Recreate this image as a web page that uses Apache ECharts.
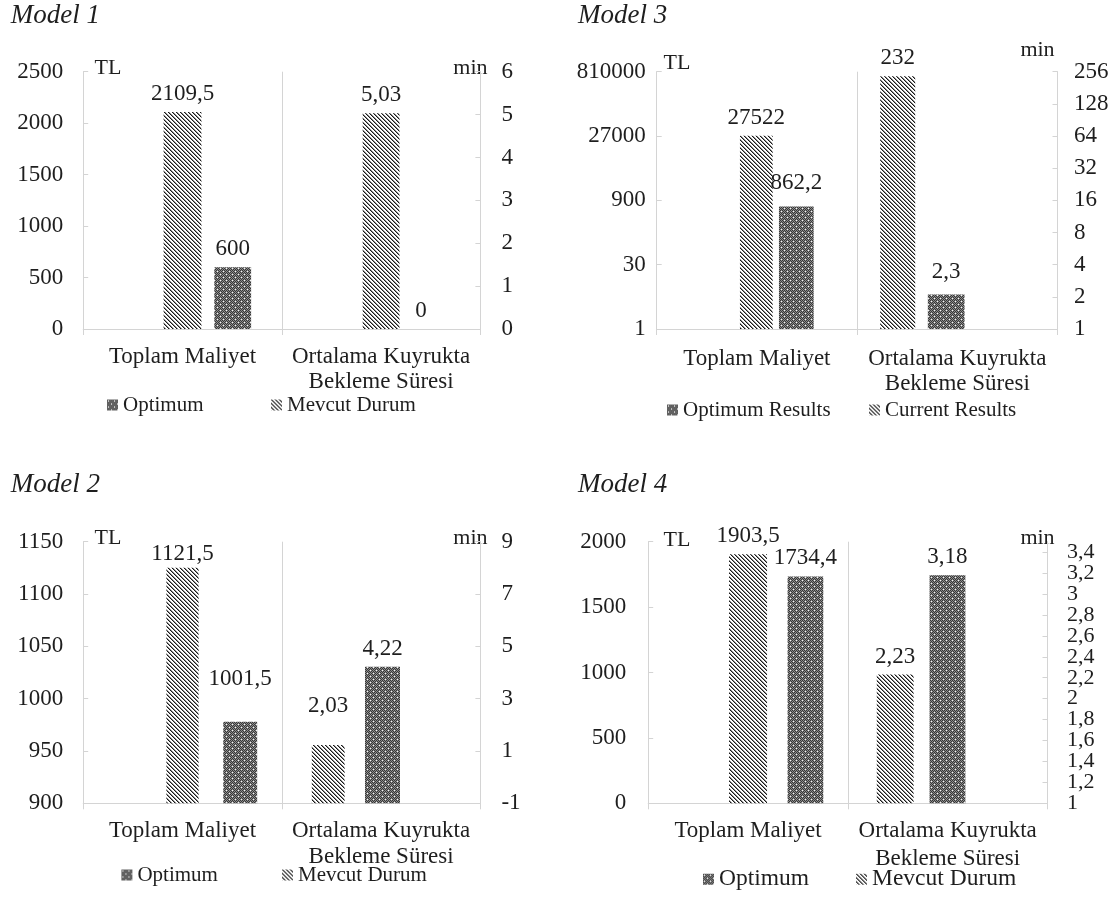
<!DOCTYPE html>
<html>
<head>
<meta charset="utf-8">
<script src="https://cdn.jsdelivr.net/npm/echarts@6/dist/echarts.min.js"></script>
<style>
  html, body { margin: 0; padding: 0; background: #fff; }
  #c { width: 1118px; height: 897px; }
</style>
</head>
<body>
<div id="c"></div>
<script>
// ---------------- DATA ----------------
const categories = ['Toplam Maliyet', 'Ortalama Kuyrukta\nBekleme Süresi'];
const legendNamesTR = ['Optimum', 'Mevcut Durum'];
const legendNamesEN = ['Optimum Results', 'Current Results'];
const panelTitles = ['Model 1', 'Model 2', 'Model 3', 'Model 4'];
const costUnit = 'TL';
const waitUnit = 'min';

// each pair: [Mevcut Durum / Current (hatched), Optimum (dotted)]
// Model 1
const model1CostBars = [2109.5, 600];
const model1WaitBars = [5.03, 0];
const model1CostLabels = [2109.5, 600];
const model1WaitLabels = [5.03, 0];
const model1CostAxis = [0, 2500, 500];
const model1WaitAxis = [0, 6, 1];

// Model 2 (bar heights as drawn; labels as printed)
const model2CostBars = [1125, 978];
const model2WaitBars = [1.23, 4.22];
const model2CostLabels = [1121.5, 1001.5];
const model2WaitLabels = [2.03, 4.22];
const model2CostAxis = [900, 1150, 50];
const model2WaitAxis = [-1, 9, 2];

// Model 3 (logarithmic axes: [min, max, base])
const model3CostBars = [27522, 650];
const model3WaitBars = [232, 2.1];
const model3CostLabels = [27522, 862.2];
const model3WaitLabels = [232, 2.3];
const model3CostAxis = [1, 810000, 30];
const model3WaitAxis = [1, 256, 2];

// Model 4
const model4CostBars = [1903.5, 1734.4];
const model4WaitBars = [2.23, 3.18];
const model4CostLabels = [1903.5, 1734.4];
const model4WaitLabels = [2.23, 3.18];
const model4CostAxis = [0, 2000, 500];
const model4WaitAxis = [1, 3.5, 0.2];

// ---------------- STYLE / LAYOUT ----------------
const FONT = '"Liberation Serif", "Times New Roman", serif';
const TXT = '#1e1e1e';
const AX = '#d4d4d4';
const FS = 23;

function makeHatch() {
  const n = 8, c = document.createElement('canvas');
  c.width = n; c.height = n;
  const ctx = c.getContext('2d');
  const img = ctx.createImageData(n, n);
  for (let y = 0; y < n; y++) for (let x = 0; x < n; x++) {
    const k = (((x - y) % 4) + 4) % 4;
    let v = 255;
    if (k === 0) v = 25; else if (k === 1) v = 140;
    const i = (y * n + x) * 4;
    img.data[i] = img.data[i + 1] = img.data[i + 2] = v; img.data[i + 3] = 255;
  }
  ctx.putImageData(img, 0, 0);
  return { image: c, repeat: 'repeat' };
}
function makeDots() {
  const n = 6, c = document.createElement('canvas');
  c.width = n; c.height = n;
  const ctx = c.getContext('2d');
  const img = ctx.createImageData(n, n);
  for (let y = 0; y < n; y++) for (let x = 0; x < n; x++) {
    let v = ((x + y) % 2 === 0) ? 55 : 140;
    if ((x === 1 && y === 1) || (x === 4 && y === 4)) v = 245;
    const i = (y * n + x) * 4;
    img.data[i] = img.data[i + 1] = img.data[i + 2] = v; img.data[i + 3] = 255;
  }
  ctx.putImageData(img, 0, 0);
  return { image: c, repeat: 'repeat' };
}
const HATCH = makeHatch();
const DOTS = makeDots();

const fmtNum = v => String(+(+v).toFixed(2)).replace('.', ',');
const fmtInt = v => String(Math.round(v));

const panels = [
  { title: panelTitles[0], titleXY: [10.7, 16.7], grid: [83.2, 71.7, 397.2, 257.3],
    cost: { bars: model1CostBars, labels: model1CostLabels, axis: model1CostAxis, log: false },
    wait: { bars: model1WaitBars, labels: model1WaitLabels, axis: model1WaitAxis, log: false },
    lm: 20, rm: 21, catMargin: 15, catLH: 25,
    tl: { wH: 37.8, wD: 36.8, h: 0, d: 50.2 }, wt: { wH: 36.8, wD: 36.8, h: 0, d: 40 },
    unitTL: [94.6, 68], unitMin: [487.5, 68],
    legend: legendNamesTR, legendPos: [[107, 405], [271, 405]], legendFont: 21 },
  { title: panelTitles[1], titleXY: [10.7, 485], grid: [83.2, 541.7, 397.2, 261.6],
    cost: { bars: model2CostBars, labels: model2CostLabels, axis: model2CostAxis, log: false },
    wait: { bars: model2WaitBars, labels: model2WaitLabels, axis: model2WaitAxis, log: false },
    lm: 20, rm: 21, catMargin: 14, catLH: 26.7,
    tl: { wH: 32.2, wD: 33.9, h: 0, d: 57.7 }, wt: { wH: 32.8, wD: 35, h: -52.9, d: 1.4 },
    unitTL: [94.6, 538], unitMin: [487.5, 538],
    legend: legendNamesTR, legendPos: [[121.4, 875], [282, 875]], legendFont: 21 },
  { title: panelTitles[2], titleXY: [578, 16.7], grid: [656.7, 71.7, 400.8, 257.3],
    cost: { bars: model3CostBars, labels: model3CostLabels, axis: model3CostAxis, log: true },
    wait: { bars: model3WaitBars, labels: model3WaitLabels, axis: model3WaitAxis, log: true },
    lm: 11, rm: 16.5, catMargin: 17, catLH: 25,
    tl: { wH: 32.7, wD: 34.7, h: -0.6, d: 39.4 }, wt: { wH: 35, wD: 36.7, h: -59.6, d: -11.1 },
    unitTL: [663.6, 63.3], unitMin: [1054.6, 50],
    legend: legendNamesEN, legendPos: [[667, 410], [869, 410]], legendFont: 21 },
  { title: panelTitles[3], titleXY: [578, 485], grid: [648.2, 541.7, 399.3, 261.6],
    cost: { bars: model4CostBars, labels: model4CostLabels, axis: model4CostAxis, log: false },
    wait: { bars: model4WaitBars, labels: model4WaitLabels, axis: model4WaitAxis, log: false, dense: true },
    lm: 22, rm: 19.5, catMargin: 14, catLH: 28,
    tl: { wH: 38, wD: 35.7, h: 0, d: 57.4 }, wt: { wH: 36.8, wD: 35.8, h: -52.5, d: -0.2 },
    unitTL: [663.6, 540], unitMin: [1054.6, 538],
    legend: legendNamesTR, legendPos: [[703, 879], [856, 879]], legendFont: 23.5 }
];

function yAxisFor(gridIndex, position, g, margin) {
  const ax = {
    gridIndex, position,
    axisLine: { show: true, onZero: false, lineStyle: { color: AX, width: 1 } },
    axisTick: { show: true, inside: true, length: 5, lineStyle: { color: AX } },
    splitLine: { show: false },
    axisLabel: { color: TXT, fontFamily: FONT, fontSize: g.dense ? 22 : FS, margin: margin, hideOverlap: false,
                 formatter: g.log ? fmtInt : fmtNum, showMinLabel: true, showMaxLabel: !g.dense }
  };
  if (g.log) {
    ax.type = 'log'; ax.logBase = g.axis[2]; ax.min = g.axis[0]; ax.max = g.axis[1];
  } else {
    ax.type = 'value'; ax.min = g.axis[0]; ax.max = g.axis[1]; ax.interval = g.axis[2];
    ax.startValue = g.axis[0];
  }
  if (g.dense) {
    // main axis shows only its first label; companion axis (same scale) shows the others
    const lo = g.axis[0];
    ax.axisLabel.formatter = v => (Math.abs(v - lo) < 1e-9 ? fmtNum(v) : '');
  }
  return ax;
}
function denseCompanion(gridIndex, position, g, margin) {
  return {
    gridIndex, position, type: 'value', min: g.axis[0], max: g.axis[1], interval: g.axis[2],
    axisLine: { show: false }, axisTick: { show: false }, splitLine: { show: false },
    axisLabel: { color: TXT, fontFamily: FONT, fontSize: 22, margin: margin, hideOverlap: false,
                 formatter: fmtNum, showMinLabel: false, showMaxLabel: false }
  };
}

function groupSeries(xIndex, yIndex, catIdx, values, lay, names, asLabels) {
  const G = lay.d - lay.h - lay.wH / 2 - lay.wD / 2;
  const diff = 2 * lay.h + G + lay.wD;
  const L = Math.max(diff, 0), R = Math.max(-diff, 0);
  const put = v => (catIdx === 0 ? [v, null] : [null, v]);
  const base = { type: 'bar', xAxisIndex: xIndex, yAxisIndex: yIndex, barGap: '0%', silent: true, animation: false };
  const ph = w => Object.assign({}, base, { barWidth: w, data: [null, null], itemStyle: { color: 'rgba(0,0,0,0)' } });
  const real = (w, v, name, pat) => {
    const s = Object.assign({}, base, { barWidth: w, data: put(v) });
    if (asLabels) {
      s.name = 'label';
      s.itemStyle = { color: 'rgba(0,0,0,0)' };
      s.label = { show: true, position: 'top', distance: 6.5, color: TXT, fontFamily: FONT, fontSize: FS,
                  formatter: p => fmtNum(p.value) };
    } else {
      s.name = name;
      s.itemStyle = { color: pat };
    }
    return s;
  };
  const out = [];
  if (L > 0.5) out.push(ph(L));
  out.push(real(lay.wH, values[0], names[1], HATCH));
  if (G > 0.5) out.push(ph(G));
  out.push(real(lay.wD, values[1], names[0], DOTS));
  if (R > 0.5) out.push(ph(R));
  return out;
}

const option = {
  animation: false, backgroundColor: '#ffffff',
  title: [], grid: [], xAxis: [], yAxis: [], series: [], legend: [], graphic: []
};
const extraYAxes = [];

panels.forEach((P, p) => {
  option.title.push({ text: P.title, left: P.titleXY[0], top: P.titleXY[1] - 14, padding: 0,
    textStyle: { fontFamily: FONT, fontSize: 27, fontStyle: 'italic', fontWeight: 'normal', color: TXT } });
  option.grid.push({ left: P.grid[0], top: P.grid[1], width: P.grid[2], height: P.grid[3], containLabel: false });
  for (let k = 0; k < 4; k++) {
    if (k === 0) {
      option.xAxis.push({ type: 'category', gridIndex: p, data: categories, boundaryGap: true,
        axisLine: { onZero: false, lineStyle: { color: AX } },
        axisTick: { show: true, length: 6, lineStyle: { color: AX } },
        splitLine: { show: true, lineStyle: { color: AX } },
        axisLabel: { color: TXT, fontFamily: FONT, fontSize: FS, lineHeight: P.catLH, margin: P.catMargin, interval: 0 } });
    } else {
      option.xAxis.push({ type: 'category', gridIndex: p, data: categories, show: false,
        axisLine: { onZero: false } });
    }
  }
  option.yAxis.push(yAxisFor(p, 'left', P.cost, P.lm));
  option.yAxis.push(yAxisFor(p, 'right', P.wait, P.rm));
  if (P.wait.dense) extraYAxes.push(denseCompanion(p, 'right', P.wait, P.rm));
  const x0 = 4 * p, yL = 2 * p, yR = 2 * p + 1;
  option.series.push(...groupSeries(x0, yL, 0, P.cost.bars, P.tl, P.legend, false));
  option.series.push(...groupSeries(x0 + 1, yR, 1, P.wait.bars, P.wt, P.legend, false));
  option.series.push(...groupSeries(x0 + 2, yL, 0, P.cost.labels, P.tl, P.legend, true));
  option.series.push(...groupSeries(x0 + 3, yR, 1, P.wait.labels, P.wt, P.legend, true));
  P.legend.forEach((name, i) => {
    option.legend.push({ data: [{ name: name, icon: 'rect' }], left: P.legendPos[i][0],
      top: P.legendPos[i][1] - P.legendFont / 2, padding: 0, itemWidth: 11, itemHeight: 11,
      selectedMode: false, textStyle: { fontFamily: FONT, fontSize: P.legendFont, color: TXT } });
  });
  option.graphic.push({ type: 'text', silent: true, style: { text: costUnit, x: P.unitTL[0], y: P.unitTL[1],
    font: '22px ' + FONT, fill: TXT, textAlign: 'left', textVerticalAlign: 'middle' } });
  option.graphic.push({ type: 'text', silent: true, style: { text: waitUnit, x: P.unitMin[0], y: P.unitMin[1],
    font: '22px ' + FONT, fill: TXT, textAlign: 'right', textVerticalAlign: 'middle' } });
});
option.yAxis.push(...extraYAxes);

const chart = echarts.init(document.getElementById('c'), null, { renderer: 'canvas' });
chart.setOption(option);
</script>
</body>
</html>
